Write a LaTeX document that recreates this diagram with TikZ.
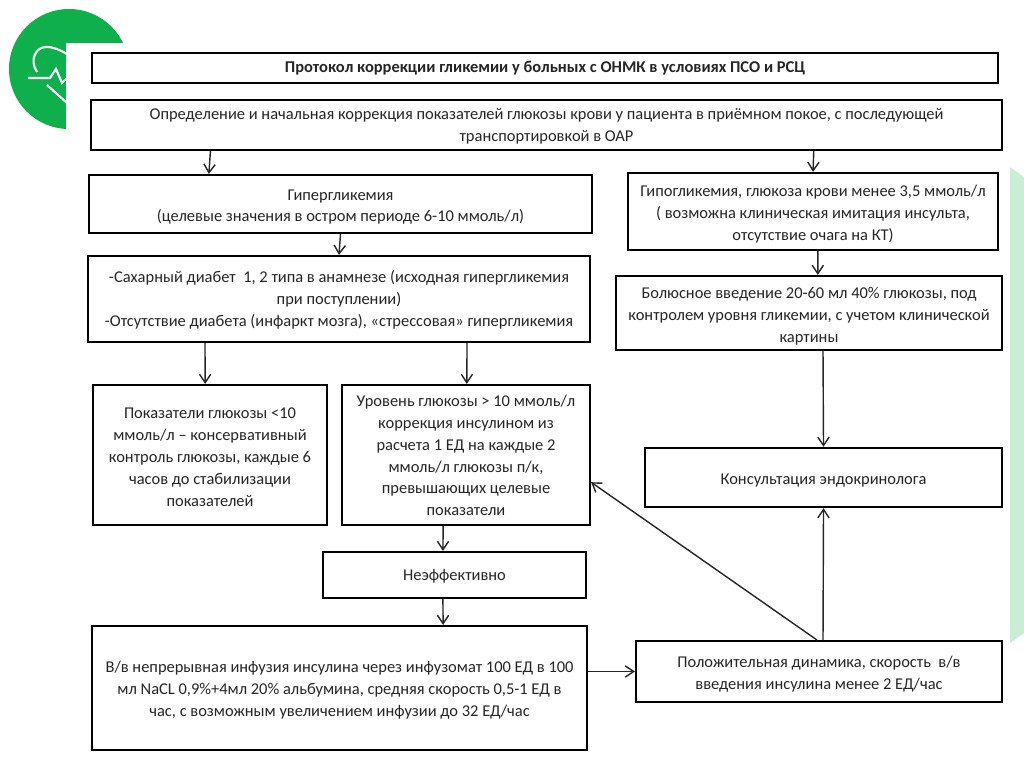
\documentclass[tikz,border=0pt]{standalone}
\usepackage{fontspec}
\setmainfont{Carlito}
\usepackage{xcolor}
\usetikzlibrary{arrows.meta}
\definecolor{logogreen}{RGB}{15,175,75}
\definecolor{stripgreen}{RGB}{200,238,212}
\tikzset{
  stepbox/.style={draw=black, line width=1.5pt, fill=white, align=center, inner sep=0pt, font=\fontsize{11.7pt}{15.6pt}\selectfont, text=black!85, text depth=0pt},
  link/.style={draw=black!85, line width=1pt, -{Straight Barb[length=6pt,width=8pt]}}
}
\begin{document}
\begin{tikzpicture}[x=0.025cm, y=-0.025cm]
  \useasboundingbox (0,0) rectangle (1024,767);
  \fill[stripgreen] (1010,167) -- (1024,177) -- (1024,633) -- (1010,643) -- cycle;
  \fill[logogreen] (69,69) circle (60);
  \draw[white, line width=1.5pt] (37,72) .. controls (29,60) and (36,47) .. (46,47) .. controls (54,47) and (60,50) .. (67,54);
  \draw[white, line width=1.5pt] (28,78) -- (50,78) -- (56,69) -- (62,83) -- (67,78);
  \draw[white, line width=1.5pt] (47,85) -- (67,103);
  \fill[white] (66,43) rectangle (140,135);

  \node[stepbox, text height=7.1pt, minimum width=22.65cm, minimum height=0.75cm, font=\fontsize{11.7pt}{13pt}\selectfont\bfseries] (title) at (545,68) {Протокол коррекции гликемии у больных с ОНМК в условиях ПСО и РСЦ};
  \node[stepbox, text height=24pt, minimum width=22.78cm, minimum height=1.25cm] (intake) at (546.5,125) {Определение и начальная коррекция показателей глюкозы крови у пациента в приёмном покое, с последующей\\транспортировкой в ОАР};
  \node[stepbox, text height=25.6pt, minimum width=12.58cm, minimum height=1.45cm] (hyper) at (340.5,204) {Гипергликемия\\(целевые значения в остром периоде 6-10 ммоль/л)};
  \node[stepbox, text height=39.4pt, minimum width=12.55cm, minimum height=2.15cm] (diabetes) at (339,299) {-Сахарный диабет\ \ 1, 2 типа в анамнезе (исходная гипергликемия\\при поступлении)\\-Отсутствие диабета (инфаркт мозга), «стрессовая» гипергликемия};
  \node[stepbox, text height=72.6pt, minimum width=5.85cm, minimum height=3.5cm] (lowgluc) at (210,455) {Показатели глюкозы <10\\ммоль/л – консервативный\\контроль глюкозы, каждые 6\\часов до стабилизации\\показателей};
  \node[stepbox, text height=86.6pt, minimum width=6.2cm, minimum height=3.5cm] (highgluc) at (466,455) {Уровень глюкозы > 10 ммоль/л\\коррекция инсулином из\\расчета 1 ЕД на каждые 2\\ммоль/л глюкозы п/к,\\превышающих целевые\\показатели};
  \node[stepbox, minimum width=6.58cm, minimum height=1.15cm] (noeffect) at (454.5,575) {Неэффективно};
  \node[stepbox, text height=40pt, minimum width=12.38cm, minimum height=3.1cm] (infusion) at (339.5,688) {В/в непрерывная инфузия инсулина через инфузомат 100 ЕД в 100\\мл NaCL 0,9\%+4мл 20\% альбумина, средняя скорость 0,5-1 ЕД в\\час, с возможным увеличением инфузии до 32 ЕД/час};
  \node[stepbox, text height=41.5pt, minimum width=9.25cm, minimum height=1.93cm] (hypo) at (813,211.5) {Гипогликемия, глюкоза крови менее 3,5 ммоль/л\\( возможна клиническая имитация инсульта,\\отсутствие очага на КТ)};
  \node[stepbox, text height=41.6pt, minimum width=9.65cm, minimum height=1.85cm] (bolus) at (809,313) {Болюсное введение 20-60 мл 40\% глюкозы, под\\контролем уровня гликемии, с учетом клинической\\картины};
  \node[stepbox, text height=9.9pt, minimum width=8.93cm, minimum height=1.48cm] (endo) at (823.5,477.5) {Консультация эндокринолога};
  \node[stepbox, text height=25.4pt, minimum width=9.15cm, minimum height=1.52cm] (positive) at (819,671.5) {Положительная динамика, скорость\ \ в/в\\введения инсулина менее 2 ЕД/час};

  \draw[link] ([xshift=-8.4cm]intake.south) -- ([xshift=-3.29cm]hyper.north);
  \draw[link] ([xshift=6.68cm]intake.south) -- (hypo.north);
  \draw[link] (hyper.south) -- (diabetes.north);
  \draw[link] ([xshift=0.12cm]hypo.south) -- ([xshift=0.22cm]bolus.north);
  \draw[link] ([xshift=-3.35cm]diabetes.south) -- ([xshift=-0.12cm]lowgluc.north);
  \draw[link] ([xshift=3.2cm]diabetes.south) -- ([xshift=0.02cm]highgluc.north);
  \draw[link] ([xshift=0.35cm]bolus.south) -- (endo.north);
  \draw[link] ([xshift=-0.57cm]highgluc.south) -- ([xshift=-0.29cm]noeffect.north);
  \draw[link] ([xshift=-0.29cm]noeffect.south) -- ([xshift=2.59cm]infusion.north);
  \draw[link] (infusion.east |- positive.west) -- (positive.west);
  \draw[link] ([xshift=0.1cm]positive.north) -- (endo.south);
  \draw[link] ([xshift=-0.05cm]positive.north) -- ([yshift=-0.68cm]highgluc.east);
\end{tikzpicture}
\end{document}
